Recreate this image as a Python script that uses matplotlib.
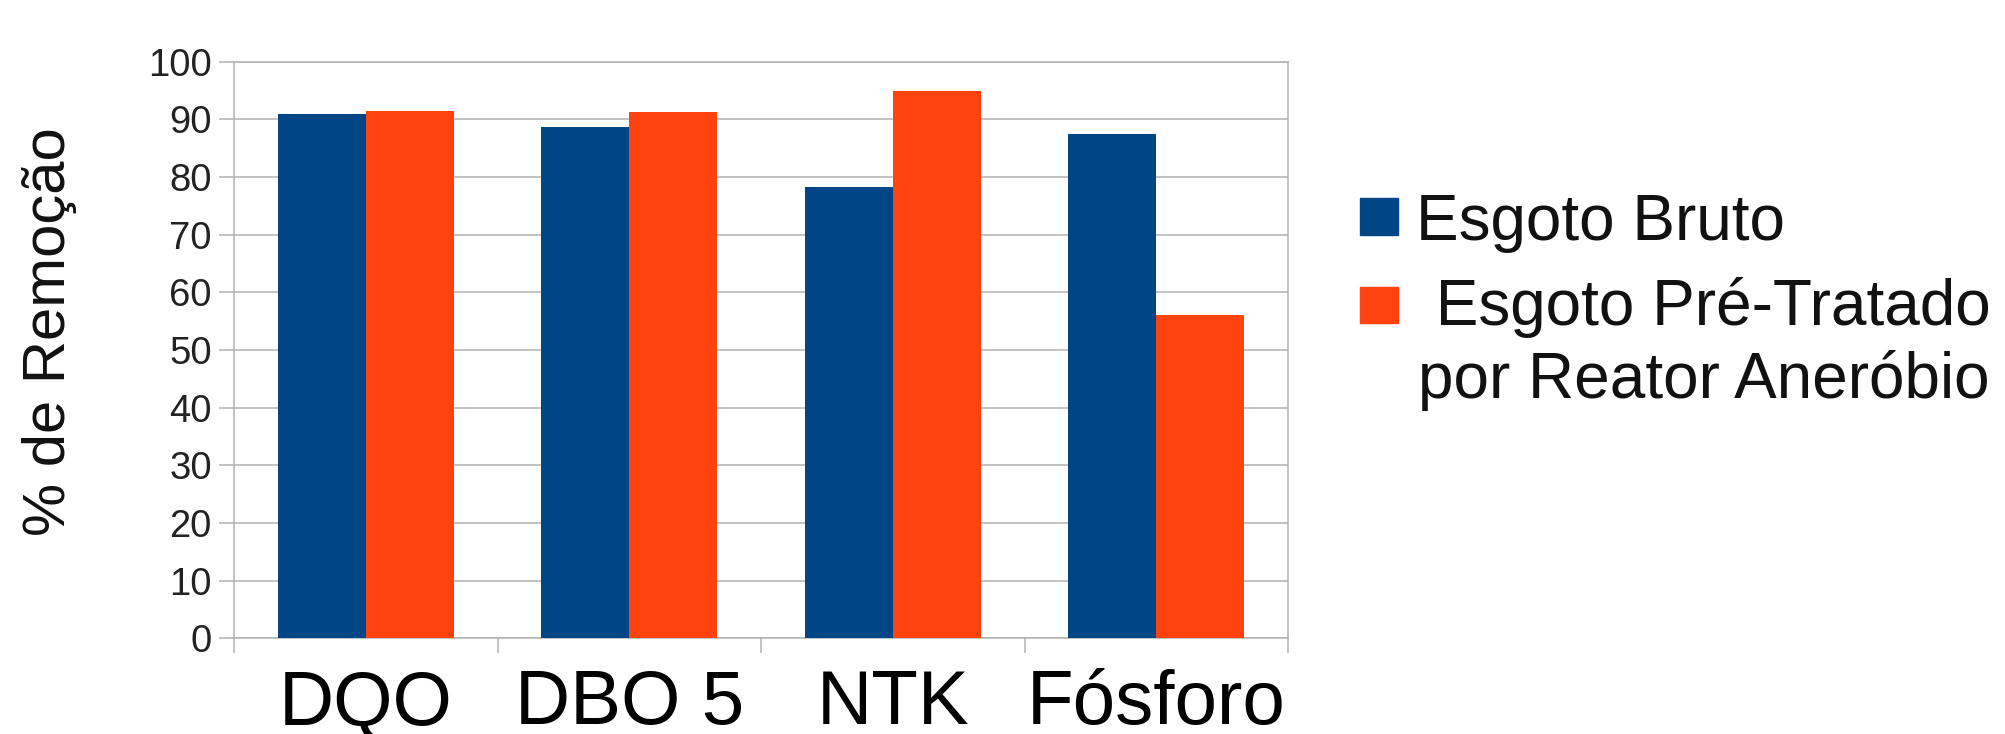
import matplotlib
matplotlib.use("Agg")
import matplotlib.pyplot as plt
from matplotlib.patches import Rectangle
import numpy as np

plt.rcParams['font.family'] = ['Liberation Sans', 'DejaVu Sans']

categorias = ['DQO', 'DBO 5', 'NTK', 'Fósforo']
esgoto_bruto = [91.0, 88.6, 78.3, 87.5]
esgoto_pre_tratado = [91.5, 91.2, 95.0, 56.1]
series_nomes = ['Esgoto Bruto', ' Esgoto Pré-Tratado', 'por Reator Aneróbio']
cor_azul = '#004586'
cor_laranja = '#ff420e'
cor_grade = '#b3b3b3'

W, H = 2005, 734
fig = plt.figure(figsize=(W / 100, H / 100), dpi=100)

def px(x, y):
    # pixel coords (from top-left) -> figure fraction
    return x / W, 1 - y / H

ax_l, ax_r, ax_t, ax_b = 234, 1288, 61.7, 638.3
ax = fig.add_axes([ax_l / W, 1 - ax_b / H, (ax_r - ax_l) / W, (ax_b - ax_t) / H])

x = np.arange(len(categorias))
larg = 1 / 3
ax.bar(x - larg / 2, esgoto_bruto, larg, color=cor_azul, zorder=3)
ax.bar(x + larg / 2, esgoto_pre_tratado, larg, color=cor_laranja, zorder=3)

ax.set_xlim(-0.5, len(categorias) - 0.5)
ax.set_ylim(0, 100)
ax.set_yticks(np.arange(0, 101, 10))
ax.grid(axis='y', color=cor_grade, linewidth=1.1, zorder=0)
for s in ax.spines.values():
    s.set_color(cor_grade)
    s.set_linewidth(1.1)

ax.tick_params(axis='y', length=11, width=1.1, color=cor_grade, pad=5,
               labelsize=27.5, labelcolor='#222222')

# category names at centers, separator ticks at the boundaries
ax.set_xticks(x)
ax.set_xticklabels(categorias)
ax.set_xticks(np.arange(-0.5, len(categorias)), minor=True)
ax.tick_params(axis='x', which='major', length=0, pad=62, labelsize=55)
ax.tick_params(axis='x', which='minor', length=11, width=1.1, color=cor_grade)
for t in ax.get_xticklabels():
    t.set_va('baseline')

fig.text(*px(50, 331.5), '% de Remoção', rotation=90, ha='center', va='center',
         fontsize=43, color='#111111')

# legend
fs_leg = 46
fig.patches.append(Rectangle(px(1360, 235), 38 / W, 37 / H, transform=fig.transFigure,
                             color=cor_azul))
fig.patches.append(Rectangle(px(1360, 323), 38 / W, 36 / H, transform=fig.transFigure,
                             color=cor_laranja))
fig.text(*px(1416, 240), series_nomes[0], fontsize=fs_leg, va='baseline', color='#111111')
fig.text(*px(1418, 325), series_nomes[1], fontsize=fs_leg, va='baseline', color='#111111')
fig.text(*px(1418, 398), series_nomes[2], fontsize=fs_leg, va='baseline', color='#111111')

fig.savefig('out.png', dpi=100)
